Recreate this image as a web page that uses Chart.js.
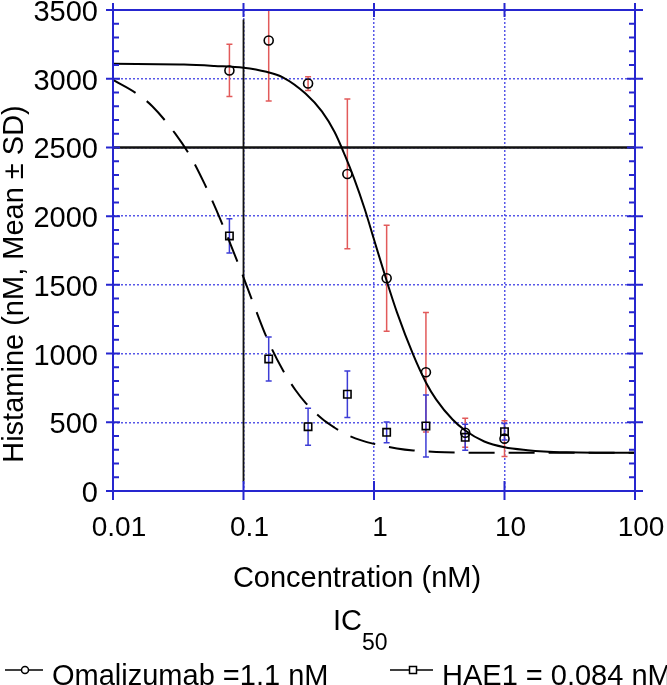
<!DOCTYPE html>
<html><head><meta charset="utf-8">
<script src="https://cdn.jsdelivr.net/npm/chart.js@4.4.0/dist/chart.umd.min.js"></script>
<style>html,body{margin:0;padding:0;background:#fff;}canvas{display:block;}</style>
</head><body>
<canvas id="c" width="667" height="685"></canvas>
<script>
// ---- data ----
const concentrations = [0.078, 0.156, 0.3125, 0.625, 1.25, 2.5, 5, 10];
const omalizumabMean = [3060, 3278, 2965, 2307, 1548, 864, 424, 381];
const omalizumabSD   = [190, 440, 50, 545, 385, 434, 105, 130];
const hae1Mean = [1856, 961, 468, 704, 427, 473, 391, 432];
const hae1SD   = [125, 160, 135, 170, 75, 225, 95, 60];

const omalizumabFitConc = [0.01, 0.035, 0.06, 0.1, 0.15, 0.2, 0.3, 0.4, 0.5, 0.6, 0.7, 0.85, 1.0, 1.25, 1.5, 2, 2.5, 3, 4, 5, 7, 10, 15, 20, 30, 50, 100];
const omalizumabFitHist = [3108, 3103, 3093, 3080, 3050, 3010, 2890, 2760, 2610, 2440, 2280, 2050, 1830, 1530, 1300, 990, 790, 665, 520, 440, 360, 318, 297, 288, 282, 279, 278];

const hae1FitConc = [0.01, 0.015, 0.02, 0.03, 0.04, 0.05, 0.06, 0.07, 0.08, 0.1, 0.12, 0.15, 0.2, 0.25, 0.3, 0.4, 0.5, 0.6, 0.8, 1, 1.5, 2, 3, 5, 10, 100];
const hae1FitHist = [2991, 2895, 2800, 2600, 2420, 2240, 2075, 1925, 1790, 1555, 1355, 1120, 880, 735, 640, 525, 460, 415, 368, 343, 310, 295, 284, 279, 278, 278];

const refVerticalConc = [0.1, 0.1];
const refVerticalHist = [70, 3430];
const refHorizontalConc = [0.01, 100];
const refHorizontalHist = [2500, 2500];

const xTickValues = [0.01, 0.1, 1, 10, 100];
const xTickLabels = ['0.01', '0.1', '1', '10', '100'];
const yTickLabels = ['0', '500', '1000', '1500', '2000', '2500', '3000', '3500'];
const yMinorStep = 100;

const xTitle = 'Concentration (nM)';
const yTitle = 'Histamine (nM, Mean \u00B1 SD)';
const legendTitle = 'IC';
const legendTitleSub = '50';
const seriesNames = ['Omalizumab =1.1 nM', 'HAE1 = 0.084 nM'];

// ---- styling ----
const FONT = "'Liberation Sans', Arial, sans-serif";
const AXIS_BLUE = '#2626cf';
const GRID_BLUE = 'rgba(45,45,225,0.8)';
const RED_ERR = '#e25a5a';
const BLUE_ERR = '#3d3dd6';

const toPts = (xs, ys) => xs.map((x, i) => ({x: x, y: ys[i]}));

const errorBars = {
  id: 'errorBars',
  beforeDatasetsDraw(chart) {
    const {ctx, chartArea: a, scales: {x, y}} = chart;
    ctx.save();
    ctx.beginPath();
    ctx.rect(a.left, a.top, a.right - a.left, a.bottom - a.top);
    ctx.clip();
    const draw = (means, sds, color) => {
      ctx.strokeStyle = color;
      ctx.lineWidth = 1.5;
      concentrations.forEach((c, i) => {
        const px = x.getPixelForValue(c);
        const top = y.getPixelForValue(means[i] + sds[i]);
        const bot = y.getPixelForValue(means[i] - sds[i]);
        ctx.beginPath();
        ctx.moveTo(px, top); ctx.lineTo(px, bot);
        ctx.moveTo(px - 3, top); ctx.lineTo(px + 3, top);
        ctx.moveTo(px - 3, bot); ctx.lineTo(px + 3, bot);
        ctx.stroke();
      });
    };
    draw(omalizumabMean, omalizumabSD, RED_ERR);
    draw(hae1Mean, hae1SD, BLUE_ERR);
    ctx.restore();
  }
};

const frame = {
  id: 'frame',
  afterDatasetsDraw(chart) {
    const {ctx, chartArea: a, scales: {x, y}} = chart;
    ctx.save();
    ctx.strokeStyle = AXIS_BLUE;
    ctx.lineWidth = 2;
    ctx.strokeRect(a.left, a.top, a.right - a.left, a.bottom - a.top);
    ctx.beginPath();
    for (let v = y.min; v <= y.max + 0.01; v += yMinorStep) {
      const py = y.getPixelForValue(v);
      if (Math.round(v) % 500 === 0) {
        ctx.moveTo(a.left - 7, py); ctx.lineTo(a.left + 7, py);
        ctx.moveTo(a.right - 8, py); ctx.lineTo(a.right + 8, py);
      } else {
        ctx.moveTo(a.left, py); ctx.lineTo(a.left + 6, py);
        ctx.moveTo(a.right - 6, py); ctx.lineTo(a.right, py);
      }
    }
    xTickValues.forEach(v => {
      const px = x.getPixelForValue(v);
      ctx.moveTo(px, a.bottom - 10); ctx.lineTo(px, a.bottom + 9);
      ctx.moveTo(px, a.top - 7); ctx.lineTo(px, a.top + 7);
    });
    ctx.stroke();
    ctx.restore();
  }
};

const texts = {
  id: 'texts',
  afterDraw(chart) {
    const ctx = chart.ctx;
    ctx.save();
    ctx.fillStyle = '#000';
    ctx.textBaseline = 'alphabetic';
    // y title
    ctx.save();
    ctx.font = '29px ' + FONT;
    ctx.translate(23, 284);
    ctx.rotate(-Math.PI / 2);
    ctx.textAlign = 'center';
    ctx.fillText(yTitle, 0, 0);
    ctx.restore();
    // x title
    ctx.font = '29px ' + FONT;
    ctx.textAlign = 'center';
    ctx.fillText(xTitle, 357, 587);
    // IC50
    ctx.textAlign = 'left';
    ctx.fillText(legendTitle, 333, 630);
    ctx.font = '23px ' + FONT;
    ctx.fillText(legendTitleSub, 362, 650);
    // legend
    ctx.strokeStyle = '#000';
    ctx.lineWidth = 1.5;
    ctx.beginPath();
    ctx.moveTo(5, 670); ctx.lineTo(43, 670);
    ctx.moveTo(390, 670); ctx.lineTo(433, 670);
    ctx.stroke();
    ctx.fillStyle = '#fff';
    ctx.beginPath(); ctx.arc(25, 670, 3.5, 0, Math.PI * 2); ctx.fill(); ctx.stroke();
    ctx.fillRect(409.5, 666.5, 7, 7); ctx.strokeRect(409.5, 666.5, 7, 7);
    ctx.fillStyle = '#000';
    ctx.font = '29px ' + FONT;
    ctx.fillText(seriesNames[0], 52, 685);
    ctx.fillText(seriesNames[1], 442, 685);
    ctx.restore();
  }
};

new Chart(document.getElementById('c'), {
  type: 'scatter',
  data: {
    datasets: [
      {label: seriesNames[0] + ' data', data: toPts(concentrations, omalizumabMean), pointStyle: 'circle', pointRadius: 4.5, pointBorderColor: '#000', pointBackgroundColor: 'rgba(0,0,0,0)', pointBorderWidth: 1.6, showLine: false},
      {label: seriesNames[1] + ' data', data: toPts(concentrations, hae1Mean), pointStyle: 'rect', pointRadius: 5.2, pointBorderColor: '#000', pointBackgroundColor: 'rgba(0,0,0,0)', pointBorderWidth: 1.6, showLine: false},
      {label: seriesNames[0] + ' fit', data: toPts(omalizumabFitConc, omalizumabFitHist), showLine: true, borderColor: '#000', borderWidth: 2, pointRadius: 0, cubicInterpolationMode: 'monotone'},
      {label: seriesNames[1] + ' fit', data: toPts(hae1FitConc, hae1FitHist), showLine: true, borderColor: '#000', borderWidth: 2, borderDash: [26, 14], pointRadius: 0, cubicInterpolationMode: 'monotone'},
      {label: 'ref vertical', data: toPts(refVerticalConc, refVerticalHist), showLine: true, borderColor: '#111', borderWidth: 1.8, pointRadius: 0},
      {label: 'ref horizontal', data: toPts(refHorizontalConc, refHorizontalHist), showLine: true, borderColor: '#111', borderWidth: 2.6, pointRadius: 0}
    ]
  },
  options: {
    responsive: false,
    animation: false,
    devicePixelRatio: 1,
    layout: {padding: {left: 0, right: 32, top: 10, bottom: 0}},
    plugins: {legend: {display: false}, tooltip: {enabled: false}},
    scales: {
      x: {
        type: 'logarithmic', min: 0.01, max: 100,
        afterBuildTicks: s => { s.ticks = xTickValues.map(v => ({value: v})); },
        afterFit: s => { s.height = 194; s.paddingLeft = 0; s.paddingRight = 0; },
        ticks: {callback: (v, i) => xTickLabels[i], color: '#000', font: {family: FONT, size: 28}, padding: 20, labelOffset: 6, maxRotation: 0, autoSkip: false},
        grid: {color: GRID_BLUE, lineWidth: 1.5, drawTicks: false},
        border: {display: false, dash: [2, 2]}
      },
      y: {
        type: 'linear', min: 0, max: 3500,
        ticks: {stepSize: 500, callback: (v, i) => yTickLabels[i], color: '#000', font: {family: FONT, size: 29}, padding: 15, labelOffset: 3},
        afterFit: s => { s.width = 113; s.paddingTop = 0; s.paddingBottom = 0; },
        grid: {color: GRID_BLUE, lineWidth: 1.5, drawTicks: false},
        border: {display: false, dash: [2, 2]}
      }
    }
  },
  plugins: [errorBars, frame, texts]
});
</script>
</body></html>
